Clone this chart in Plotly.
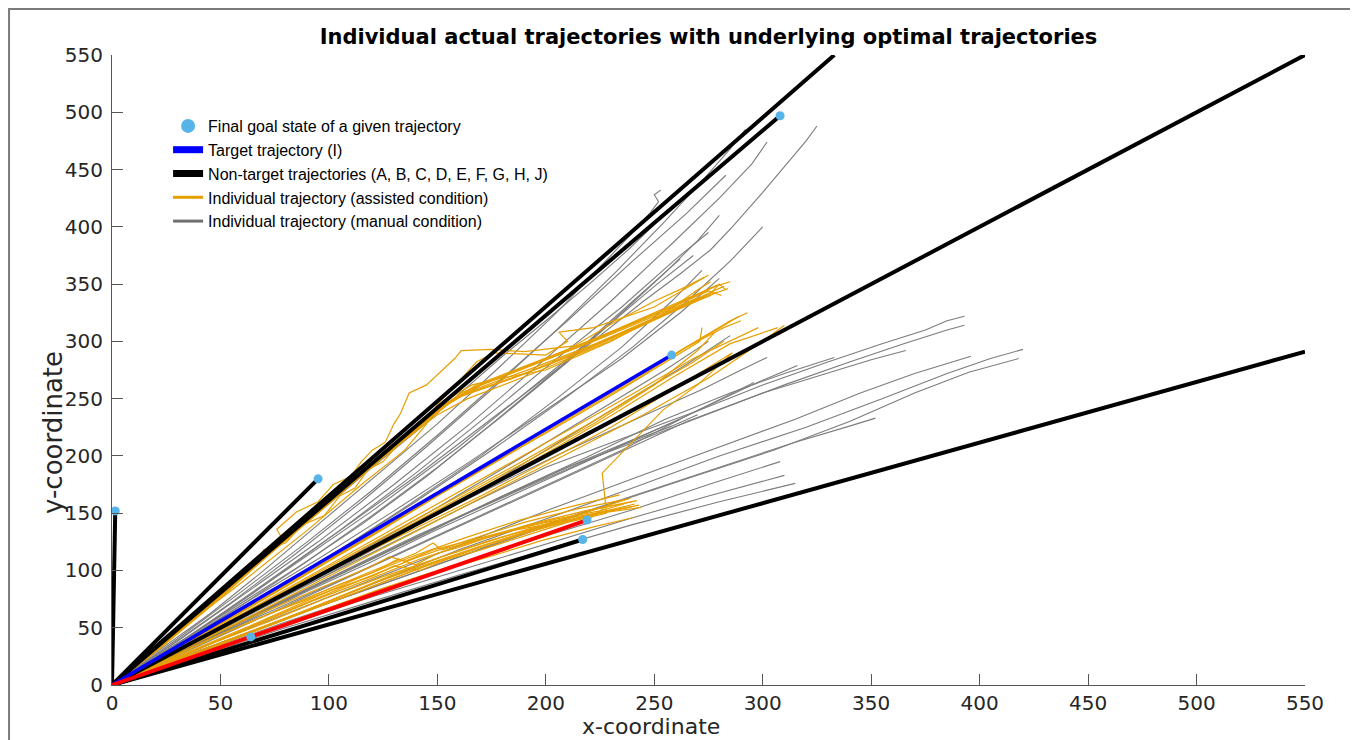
import plotly.graph_objects as go

# ---------------- data ----------------
# optimal (non-target) trajectories: end points, all start at the origin
NONTARGET_ENDS = [(1.5, 152), (95, 180), (308, 497), (333, 550), (550, 550), (217, 127), (550, 291)]
TARGET_END = (258, 288)          # target trajectory I (blue)
RED_END = (219, 144)             # red optimal trajectory
GOAL_X = [1.5, 95, 308, 258, 219, 217, 64]
GOAL_Y = [152, 180, 497, 288, 144, 127, 42]

# individual trajectories, manual condition (grey)
MANUAL = [
    [(0,0),(20,28),(45,62),(70,100),(95,140),(120,180),(150,228),(180,280),(205,325),(225,365),(240,395),(248,412),(252,422),(250,428),(253,432)],
    [(0,0),(25,32),(55,72),(85,115),(115,160),(145,208),(175,258),(205,310),(232,360),(255,405),(272,440),(285,468),(292,485)],
    [(0,0),(30,38),(60,78),(95,125),(130,175),(165,228),(200,285),(230,335),(258,385),(280,425),(295,455),(302,474)],
    [(0,0),(30,36),(65,80),(100,128),(140,182),(180,240),(215,290),(245,335),(262,359),(276,380),(286,400),(300,430),(314,461),(320,475),(325,488)],
    [(0,0),(30,40),(60,82),(90,125),(120,170),(150,218),(180,268),(210,318),(240,370),(265,412),(283,445)],
    [(0,0),(35,42),(70,88),(105,135),(140,185),(175,238),(205,285),(235,330),(260,372),(275,395)],
    [(0,0),(40,48),(80,100),(120,152),(160,208),(195,262),(225,308),(250,348),(268,375)],
    [(0,0),(30,35),(60,70),(95,110),(130,152),(165,195),(200,240),(235,285),(262,325),(280,355)],
    [(0,0),(30,33),(65,72),(100,112),(135,155),(170,200),(205,250),(235,295),(258,335),(272,362)],
    [(0,0),(25,30),(55,66),(85,102),(115,140),(145,182),(175,228),(205,275),(230,318),(250,352),(262,372)],
    [(0,0),(35,38),(70,78),(105,118),(140,160),(175,205),(210,252),(240,295),(265,335),(285,370),(300,400)],
    [(0,0),(30,28),(60,58),(95,92),(130,128),(165,165),(200,205),(235,245),(265,280),(285,305)],
    [(0,0),(35,35),(70,70),(110,112),(150,155),(190,200),(225,240),(255,275),(275,300)],
    [(0,0),(30,34),(60,70),(90,108),(120,148),(150,190),(180,235),(210,282),(235,325),(255,360),(270,388),(280,410)],
    [(0,0),(20,32),(40,62),(60,95),(80,127),(100,158),(120,190),(140,221),(160,254),(180,287),(200,318),(220,350),(238,380),(250,402)],
    [(0,0),(30,30),(60,60),(95,92),(130,125),(165,158),(200,190),(235,215),(271,240),(300,262),(330,282),(355,298),(375,310),(385,318),(393,322)],
    [(0,0),(35,32),(70,65),(105,98),(140,130),(175,160),(210,190),(245,215),(280,240),(310,262),(340,282),(365,298),(385,310),(393,314)],
    [(0,0),(35,30),(70,60),(110,95),(150,130),(190,165),(230,200),(265,230),(300,255),(330,272),(350,284),(366,292)],
    [(0,0),(40,32),(80,62),(120,92),(160,122),(200,152),(240,180),(280,208),(315,232),(345,255),(370,272),(396,287)],
    [(0,0),(40,30),(80,58),(120,88),(160,118),(200,145),(240,172),(280,200),(320,225),(355,250),(385,272),(405,285),(420,293)],
    [(0,0),(45,32),(90,65),(135,95),(180,125),(225,155),(265,180),(305,205),(340,230),(370,255),(395,273),(418,285)],
    [(0,0),(30,28),(65,60),(100,92),(140,128),(180,165),(220,200),(255,232),(285,255),(310,272),(333,286)],
    [(0,0),(30,30),(60,62),(95,96),(130,130),(170,168),(210,205),(245,235),(272,258),(290,275),(302,286)],
    [(0,0),(35,32),(70,66),(110,102),(150,138),(190,172),(230,205),(265,235),(295,262),(316,279)],
    [(0,0),(35,32),(75,66),(115,100),(155,135),(195,170),(235,205),(268,238),(296,264)],
    [(0,0),(30,27),(60,55),(90,83),(120,110),(150,138),(180,165),(210,190),(240,214),(262,232)],
    [(0,0),(28,26),(58,52),(88,80),(118,106),(148,134),(178,160),(208,186),(236,210),(258,226),(270,236)],
    [(0,0),(40,30),(80,58),(120,85),(160,112),(200,140),(240,165),(280,190),(315,212),(340,226),(352,233)],
    [(0,0),(40,28),(80,55),(120,80),(160,105),(200,130),(240,153),(275,175),(308,195)],
    [(0,0),(40,27),(80,52),(120,77),(160,100),(200,123),(240,146),(275,165),(310,183)],
    [(0,0),(40,25),(80,50),(120,73),(160,96),(200,118),(240,140),(280,160),(315,176)],
]

# individual trajectories, assisted condition (orange)
ASSISTED = [
    [(0,0),(20,30),(45,70),(70,110),(95,150),(120,192),(145,232),(160,252),(190,272),(220,295),(250,320),(275,342),(282,348)],
    [(0,0),(22,32),(48,74),(75,118),(100,160),(125,200),(150,240),(165,258),(195,280),(225,303),(255,328),(278,348),(285,352)],
    [(0,0),(25,38),(50,80),(78,124),(105,168),(130,208),(155,245),(170,262),(200,285),(230,308),(258,330),(280,350),(283,345)],
    [(0,0),(18,26),(42,66),(68,108),(92,148),(118,190),(142,230),(158,250),(185,268),(215,290),(245,315),(270,336),(276,340)],
    [(0,0),(24,35),(50,76),(76,120),(102,162),(128,204),(152,242),(168,262),(198,284),(228,306),(256,328),(275,344),(281,340)],
    [(0,0),(20,32),(44,72),(70,114),(96,156),(122,198),(148,238),(162,256),(192,278),(222,300),(250,322),(270,338)],
    [(0,0),(22,34),(46,75),(73,118),(98,158),(124,198),(150,236),(164,250),(194,272),(224,296),(254,322),(278,342),(284,346)],
    [(0,0),(21,33),(47,75),(72,116),(97,156),(123,198),(149,240),(163,255),(193,276),(223,298),(252,322),(276,342),(280,350)],
    [(0,0),(23,35),(48,77),(74,119),(99,160),(126,202),(151,241),(166,259),(196,282),(226,305),(256,330),(279,349)],
    [(0,0),(19,30),(43,69),(69,111),(94,151),(119,193),(144,233),(159,251),(188,270),(218,292),(248,318),(272,338),(279,343)],
    [(0,0),(25,38),(50,78),(68,108),(73,116),(78,129),(76,136),(85,151),(95,160),(102,175),(110,182),(115,195),(120,205),(126,212),(130,228),(133,237),(137,255),(145,262),(151,273),(158,285),(161,292),(175,293),(190,291),(213,296),(230,315),(250,335),(265,348),(273,356)],
    [(0,0),(22,36),(45,72),(60,98),(66,105),(70,118),(80,124),(88,140),(98,148),(105,165),(112,172),(118,188),(125,195),(132,210),(140,222),(148,238),(155,250),(166,262),(180,268),(200,275),(230,300),(255,325),(270,345),(276,352)],
    [(0,0),(30,46),(60,90),(90,135),(115,175),(135,205),(145,228),(150,245),(160,265),(168,282),(176,290),(200,288),(210,300),(206,308),(222,312),(250,330),(268,350),(275,358)],
    [(0,0),(25,27),(55,60),(85,93),(115,126),(145,160),(175,194),(205,228),(235,262),(262,292),(285,318),(293,325)],
    [(0,0),(28,28),(58,60),(90,94),(120,126),(150,158),(180,190),(210,222),(240,254),(268,285),(290,305),(298,312)],
    [(0,0),(30,30),(62,62),(95,96),(128,130),(160,163),(192,196),(222,228),(250,262),(270,292),(278,308)],
    [(0,0),(26,28),(56,60),(88,95),(118,128),(150,165),(180,198),(210,232),(240,265),(265,295),(282,312),(290,318)],
    [(0,0),(27,28),(57,61),(87,94),(117,128),(147,162),(177,196),(207,230),(237,263),(264,294),(284,316),(289,322)],
    [(0,0),(29,29),(60,61),(92,95),(124,128),(156,161),(188,194),(218,226),(246,258),(268,282),(282,300)],
    [(0,0),(32,32),(65,64),(98,98),(132,132),(165,166),(198,200),(230,235),(258,268),(285,298),(307,312)],
    [(0,0),(25,26),(52,55),(82,88),(112,122),(142,156),(172,190),(202,222),(232,255),(258,285),(271,300),(272,312)],
    [(0,0),(35,33),(70,66),(105,100),(140,134),(175,168),(210,202),(245,236),(275,268),(300,300),(310,314)],
    [(0,0),(90,90),(170,165),(230,225),(262,262),(286,290),(270,262),(254,240),(226,185),(227,168),(228,150)],
    [(0,0),(20,15),(45,32),(70,50),(95,68),(120,86),(145,104),(170,120),(195,135),(220,148),(243,157)],
    [(0,0),(22,16),(48,34),(74,53),(100,72),(125,90),(150,108),(175,124),(200,138),(225,150),(244,155)],
    [(0,0),(20,16),(44,35),(68,54),(92,73),(118,92),(142,110),(168,126),(192,140),(218,152),(242,161)],
    [(0,0),(18,15),(40,33),(64,52),(88,72),(112,92),(138,112),(162,128),(188,144),(212,156),(234,166)],
    [(0,0),(24,17),(50,36),(76,55),(102,75),(128,95),(152,112),(178,128),(204,142),(225,155),(239,163)],
    [(0,0),(22,15),(46,31),(72,48),(98,66),(124,84),(150,100),(176,116),(200,130),(220,145),(230,159)],
    [(0,0),(20,14),(44,30),(70,47),(96,64),(122,82),(148,98),(174,112),(198,126),(222,138),(240,146)],
    [(0,0),(21,16),(46,34),(71,52),(96,70),(121,89),(146,106),(171,122),(196,137),(221,149),(241,158)],
    [(0,0),(19,15),(42,33),(66,53),(90,72),(115,92),(140,111),(165,127),(190,142),(215,154),(237,162)],
    [(0,0),(23,18),(47,37),(73,56),(99,76),(124,94),(149,110),(174,126),(199,140),(222,153),(240,160)],
    [(0,0),(15,14),(30,26),(45,40),(60,52),(75,64),(90,76),(105,88),(120,98),(132,110),(140,105),(150,115),(160,120),(172,128),(185,135),(200,140),(215,146),(230,152),(238,155)],
    [(0,0),(18,17),(38,36),(58,54),(80,72),(100,88),(118,102),(128,112),(135,108),(148,118),(165,126),(185,136),(205,145),(225,152),(236,158)],
    [(0,0),(25,22),(50,44),(75,64),(100,82),(120,95),(130,104),(142,100),(155,110),(170,118),(190,130),(210,142),(228,150)],
    [(0,0),(20,18),(45,40),(70,60),(95,80),(118,98),(140,115),(148,124),(152,118),(165,125),(182,134),(200,142),(222,150),(240,156)],
]

X_TICKS = [0, 50, 100, 150, 200, 250, 300, 350, 400, 450, 500, 550]
Y_TICKS = [0, 50, 100, 150, 200, 250, 300, 350, 400, 450, 500, 550]

TITLE = "Individual actual trajectories with underlying optimal trajectories"
LEGEND_NAMES = ["Final goal state of a given trajectory",
                "Target trajectory (I)",
                "Non-target trajectories (A, B, C, D, E, F, G, H, J)",
                "Individual trajectory (assisted condition)",
                "Individual trajectory (manual condition)"]

# ---------------- colours ----------------
C_GOAL = "#56B4E9"
C_ORANGE = "#E69F00"
C_GREY = "#6f6f6f"


def flatten(trajs):
    xs, ys = [], []
    for t in trajs:
        for px, py in t:
            xs.append(px)
            ys.append(py)
        xs.append(None)
        ys.append(None)
    return xs, ys


fig = go.Figure()

gx, gy = flatten(MANUAL)
fig.add_trace(go.Scatter(x=gx, y=gy, mode="lines", line=dict(color=C_GREY, width=1.1),
                         opacity=0.9, showlegend=False, hoverinfo="skip"))

ox, oy = flatten(ASSISTED)
fig.add_trace(go.Scatter(x=ox, y=oy, mode="lines", line=dict(color=C_ORANGE, width=1.2),
                         showlegend=False, hoverinfo="skip"))

bx, by = flatten([[(0, 0), e] for e in NONTARGET_ENDS])
fig.add_trace(go.Scatter(x=bx, y=by, mode="lines", line=dict(color="black", width=4),
                         showlegend=False, hoverinfo="skip"))

fig.add_trace(go.Scatter(x=[0, TARGET_END[0]], y=[0, TARGET_END[1]], mode="lines",
                         line=dict(color="#0000FF", width=3.5), showlegend=False, hoverinfo="skip"))
fig.add_trace(go.Scatter(x=[0, RED_END[0]], y=[0, RED_END[1]], mode="lines",
                         line=dict(color="#FF0000", width=4), showlegend=False, hoverinfo="skip"))

fig.add_trace(go.Scatter(x=GOAL_X, y=GOAL_Y, mode="markers", cliponaxis=False,
                         marker=dict(color=C_GOAL, size=9), showlegend=False, hoverinfo="skip"))

# legend-only entries
fig.add_trace(go.Scatter(x=[None], y=[None], mode="markers", name=LEGEND_NAMES[0],
                         marker=dict(color=C_GOAL, size=14)))
fig.add_trace(go.Scatter(x=[None], y=[None], mode="lines", name=LEGEND_NAMES[1],
                         line=dict(color="#0000FF", width=7)))
fig.add_trace(go.Scatter(x=[None], y=[None], mode="lines", name=LEGEND_NAMES[2],
                         line=dict(color="black", width=7)))
fig.add_trace(go.Scatter(x=[None], y=[None], mode="lines", name=LEGEND_NAMES[3],
                         line=dict(color=C_ORANGE, width=3)))
fig.add_trace(go.Scatter(x=[None], y=[None], mode="lines", name=LEGEND_NAMES[4],
                         line=dict(color=C_GREY, width=3)))

axis_common = dict(showgrid=False, zeroline=False, showline=True, linecolor="#555555",
                   linewidth=1, ticks="inside", ticklen=11, tickcolor="#555555",
                   tickfont=dict(family="DejaVu Sans", size=20, color="#262626"),
                   range=[0, 550], fixedrange=True)

# the page body adds an 8px offset, so the figure is 8px smaller in each direction
fig.update_layout(
    width=1350, height=732,
    margin=dict(l=104, r=53, t=47, b=55),
    paper_bgcolor="white", plot_bgcolor="white",
    title=dict(text="<b>" + TITLE + "</b>", x=0.5, xref="paper", y=0.9604, yanchor="middle",
               font=dict(family="DejaVu Sans", size=21, color="black")),
    xaxis=dict(**axis_common, tickvals=X_TICKS, ticklabelstandoff=0),
    yaxis=dict(**axis_common, tickvals=Y_TICKS, ticklabelstandoff=4),
    legend=dict(x=0.047, y=0.9143, xanchor="left", yanchor="top",
                bgcolor="rgba(255,255,255,0)", borderwidth=0, itemwidth=30,
                font=dict(family="Liberation Sans, Arial", size=16, color="black"),
                tracegroupgap=0),
    annotations=[
        dict(text="x-coordinate", xref="paper", yref="paper", x=0.4518, y=-0.0651,
             xanchor="center", yanchor="middle", showarrow=False,
             font=dict(family="DejaVu Sans", size=22, color="#262626")),
        dict(text="y-coordinate", xref="paper", yref="paper", x=-0.0495, y=0.4016,
             xanchor="center", yanchor="middle", showarrow=False, textangle=-90,
             font=dict(family="DejaVu Sans", size=26, color="#262626")),
    ],
    shapes=[dict(type="rect", xref="paper", yref="paper", x0=-0.0863, x1=1.0386,
                 y0=-0.11, y1=1.073, line=dict(color="#7a7a7a", width=2),
                 fillcolor="rgba(0,0,0,0)", layer="below")],
)

fig.write_html("out.html")
